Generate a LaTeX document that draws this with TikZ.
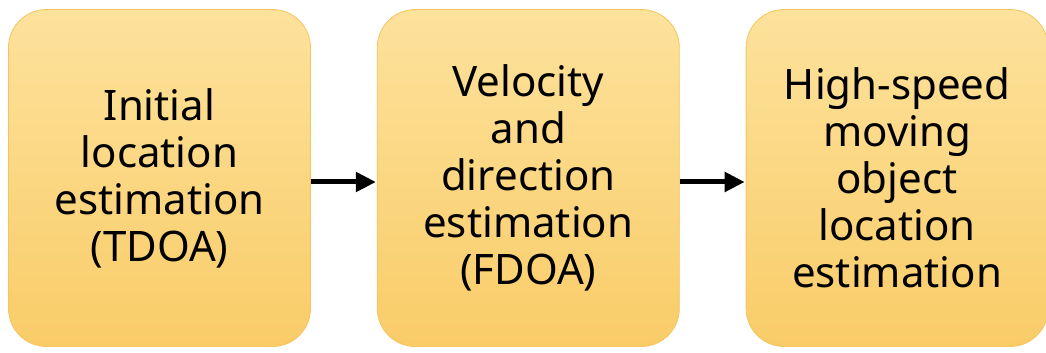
\documentclass[tikz,border=0pt]{standalone}
\usepackage{fontspec}
\setmainfont{Noto Sans}
\usetikzlibrary{arrows.meta, positioning}
\definecolor{boxtop}{RGB}{253,226,156}
\definecolor{boxbot}{RGB}{249,204,104}
\definecolor{boxline}{RGB}{244,196,96}

\begin{document}
\begin{tikzpicture}[
        node distance=66pt,
        stage/.style={draw=boxline, line width=0.8pt, rounded corners=38pt, minimum width=302pt, minimum height=337pt,
            top color=boxtop, bottom color=boxbot, align=center, font=\fontsize{42}{47}\selectfont},
        flow/.style={-{Triangle[length=20pt,width=19pt]}, line width=5pt},
    ]
        \useasboundingbox (0,0) rectangle (1046pt,353pt);
        \node[stage] (tdoa) at (159.5pt,175pt) {Initial\\location\\estimation\\(TDOA)};
        \node[stage, right=of tdoa] (fdoa) {Velocity\\and\\direction\\estimation\\(FDOA)};
        \node[stage, right=of fdoa] (final) {High-speed\\moving\\object\\location\\estimation};

        \draw[flow, shorten >=1pt] ([yshift=-4pt]tdoa.east) -- ([yshift=-4pt]fdoa.west);
        \draw[flow, shorten >=1pt] ([yshift=-4pt]fdoa.east) -- ([yshift=-4pt]final.west);
    \end{tikzpicture}
\end{document}
